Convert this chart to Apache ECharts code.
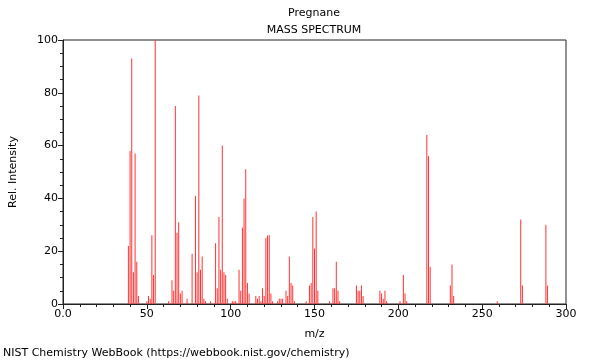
<!DOCTYPE html>
<html><head><meta charset="utf-8">
<script src="https://cdn.jsdelivr.net/npm/echarts@6/dist/echarts.min.js"></script>
<style>html,body{margin:0;padding:0;background:#fff}#c{width:600px;height:360px}</style>
</head><body><div id="c"></div>
<script>
const titleText = 'Pregnane';
const subtitleText = 'MASS SPECTRUM';
const footerText = 'NIST Chemistry WebBook (https://webbook.nist.gov/chemistry)';
const xTicks = [0, 50, 100, 150, 200, 250, 300];
const yTicks = [0, 20, 40, 60, 80, 100];
const mz = [39,40,41,42,43,44,45,50,51,52,53,54,55,63,65,66,67,68,69,70,71,74,77,79,80,81,82,83,84,85,88,91,92,93,94,95,96,97,98,101,102,103,105,106,107,108,109,110,111,115,116,117,118,119,120,121,122,123,124,125,128,129,130,131,133,134,135,136,137,138,145,147,148,149,150,151,152,159,161,162,163,164,165,175,176,177,178,179,189,190,191,192,193,201,203,204,205,217,218,219,231,232,233,259,273,274,288,289];
const intensity = [22,58,93,12,57,16,3,1,3,2,26,11,100,1,9,5,75,27,31,4,5,2,19,41,12,79,13,18,2,1,1,23,6,33,13,60,12,11,2,1,1,1,13,5,29,40,51,8,4,3,2,3,1,6,3,25,26,26,4,1,1,2,2,2,5,3,18,8,7,1,1,7,8,33,21,35,5,1,6,6,16,5,1,7,5,5,7,3,5,4,2,5,1,1,11,4,1,64,56,14,7,15,3,1,32,7,30,7];

const font = 'DejaVu Sans';
const chart = echarts.init(document.getElementById('c'), null, {renderer: 'canvas'});
const axisCol = '#222';
const txt = (t, x, y, align) => ({type: 'text', x: x, y: y, style: {text: t, font: '11px "DejaVu Sans"', fill: '#000', textAlign: align, textVerticalAlign: 'middle'}});
chart.setOption({
  animation: false,
  backgroundColor: '#fff',
  graphic: [
    txt(titleText, 314, 13, 'center'),
    txt(subtitleText, 314, 30, 'center'),
    txt(footerText, 3, 353, 'left')
  ],
  grid: {left: 62, right: 34, top: 40, bottom: 56, show: true, borderColor: axisCol, borderWidth: 1, containLabel: false},
  xAxis: {
    type: 'value', min: xTicks[0], max: xTicks[xTicks.length-1], interval: 50,
    name: 'm/z', nameLocation: 'middle', nameGap: 25,
    nameTextStyle: {fontFamily: font, fontSize: 11, color: '#000'},
    axisLine: {show: true, lineStyle: {color: axisCol}},
    axisTick: {show: true, length: 5, lineStyle: {color: axisCol}},
    minorTick: {show: true, splitNumber: 5, length: 3, lineStyle: {color: axisCol}},
    splitLine: {show: false},
    axisLabel: {fontFamily: font, fontSize: 11, color: '#000', margin: 5, formatter: v => v === 0 ? '0.0' : String(v)}
  },
  yAxis: {
    type: 'value', min: yTicks[0], max: yTicks[yTicks.length-1], interval: 20,
    name: 'Rel. Intensity', nameLocation: 'middle', nameGap: 44, nameRotate: 90,
    nameTextStyle: {fontFamily: font, fontSize: 11, color: '#000'},
    axisLine: {show: true, lineStyle: {color: axisCol}},
    axisTick: {show: true, length: 5, lineStyle: {color: axisCol}},
    minorTick: {show: true, splitNumber: 4, length: 3, lineStyle: {color: axisCol}},
    splitLine: {show: false},
    axisLabel: {fontFamily: font, fontSize: 11, color: '#000', margin: 5}
  },
  series: [{
    type: 'bar', barWidth: 1, silent: true,
    itemStyle: {color: '#ff3333'},
    data: mz.map((m, i) => [m, intensity[i]])
  }]
});
</script></body></html>
